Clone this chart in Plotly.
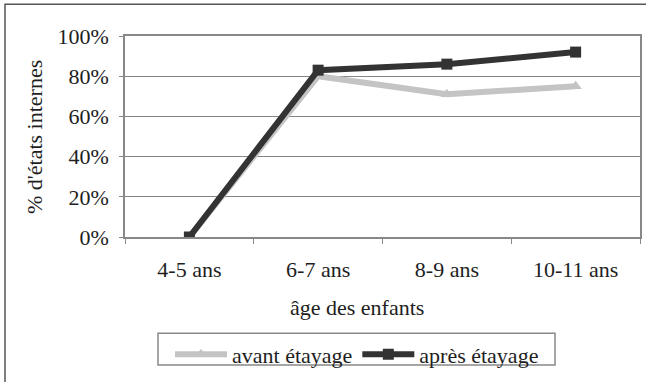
import plotly.graph_objects as go

categories = ["4-5 ans", "6-7 ans", "8-9 ans", "10-11 ans"]
avant = [0, 80, 71, 75]
apres = [0, 83, 86, 92]
y_ticks = [0, 20, 40, 60, 80, 100]
y_tick_labels = ["0%", "20%", "40%", "60%", "80%", "100%"]

W, H = 646, 382
L, R, T, B = 125, 6, 36, 137
pw, ph = W - L - R, H - T - B

def px_x(p):
    return (p - L) / pw

def px_y(p):
    return (H - B - p) / ph

FONT = "Liberation Serif"
FS = 22

fig = go.Figure()
fig.add_trace(go.Scatter(
    x=categories, y=avant, name="avant étayage", mode="lines+markers",
    line=dict(color="#c4c4c4", width=6),
    marker=dict(symbol="triangle-up", size=11, color="#c4c4c4"),
))
fig.add_trace(go.Scatter(
    x=categories, y=apres, name="après étayage", mode="lines+markers",
    line=dict(color="#333333", width=6),
    marker=dict(symbol="square", size=11, color="#333333"),
))

fig.update_layout(
    template="none",
    width=W, height=H,
    margin=dict(l=L, r=R, t=T, b=B),
    paper_bgcolor="white", plot_bgcolor="white",
    font=dict(family=FONT, size=FS, color="#1e1e1e"),
    showlegend=True,
    legend=dict(
        orientation="h", x=px_x(357), xanchor="center", y=px_y(367), yanchor="middle",
        borderwidth=0, font=dict(size=FS, family=FONT),
        itemwidth=52, tracegroupgap=0, bgcolor="rgba(0,0,0,0)",
    ),
    xaxis=dict(
        type="category", range=[-0.5, 3.5], showgrid=False,
        showline=True, linecolor="#888888", linewidth=1.5, mirror=True,
        ticks="outside", ticklen=5, tickcolor="#888888", tickson="boundaries",
        tickfont=dict(size=FS, family=FONT), ticklabelstandoff=12,
    ),
    yaxis=dict(
        range=[0, 100], tickvals=y_ticks, ticktext=y_tick_labels,
        showgrid=True, gridcolor="#858585", gridwidth=1,
        showline=True, linecolor="#888888", linewidth=1.5, mirror=True,
        ticks="outside", ticklen=4, tickcolor="#888888",
        tickfont=dict(size=FS, family=FONT), zeroline=False, ticklabelstandoff=6,
    ),
    annotations=[
        dict(text="âge des enfants", x=px_x(357), y=px_y(318), xref="paper", yref="paper",
             showarrow=False, font=dict(size=FS, family=FONT), xanchor="center", yanchor="middle"),
        dict(text="% d'états internes", x=px_x(35), y=px_y(141), xref="paper", yref="paper",
             showarrow=False, textangle=-90, font=dict(size=FS, family=FONT),
             xanchor="center", yanchor="middle"),
    ],
    shapes=[
        dict(type="rect", xref="paper", yref="paper",
             x0=px_x(5), x1=px_x(700), y0=px_y(450), y1=px_y(3),
             line=dict(color="#555555", width=1.5), layer="below"),
        dict(type="rect", xref="paper", yref="paper",
             x0=px_x(158), x1=px_x(555), y0=px_y(378), y1=px_y(345),
             line=dict(color="#888888", width=1.5), layer="above"),
    ],
)

fig.write_html("out.html")
